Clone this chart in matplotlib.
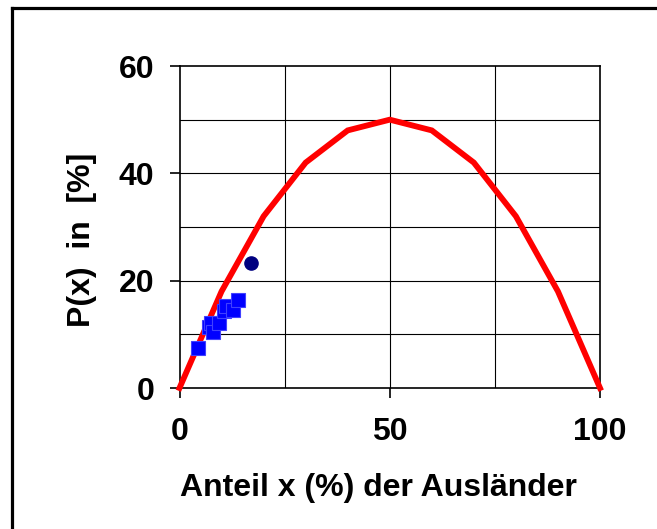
import matplotlib.pyplot as plt
from matplotlib.lines import Line2D

# data
curve_x = [0, 10, 20, 30, 40, 50, 60, 70, 80, 90, 100]
curve_p = [0, 18, 32, 42, 48, 50, 48, 42, 32, 18, 0]

square_x = [4.4, 7.1, 7.5, 7.9, 9.4, 10.5, 11.1, 12.7, 14.0]
square_p = [7.4, 11.3, 12.2, 10.4, 12.2, 14.4, 15.3, 14.6, 16.4]

circle_x = [16.9]
circle_p = [23.2]

x_ticks = [0, 50, 100]
y_ticks = [0, 20, 40, 60]
x_grid = [25, 50, 75]
y_grid = [10, 20, 30, 40, 50]


def main():
    plt.rcParams["font.family"] = ["Liberation Sans", "DejaVu Sans"]
    plt.rcParams["font.weight"] = "bold"

    fig = plt.figure(figsize=(6.57, 5.29), dpi=100)
    ax = fig.add_axes([179.5 / 657, 141 / 529, 420.5 / 657, 322 / 529])

    # grid lines
    for gx in x_grid:
        ax.axvline(gx, color="black", lw=0.8, zorder=1)
    for gy in y_grid:
        ax.axhline(gy, color="black", lw=0.8, zorder=1)

    ax.plot(curve_x, curve_p, color="#ff0000", lw=4.2, zorder=3,
            solid_joinstyle="miter", clip_on=False)
    ax.plot(square_x, square_p, ls="none", marker="s", markersize=9.5,
            markerfacecolor="#0000ff", markeredgecolor="#4040ff",
            markeredgewidth=0.8, zorder=4)
    ax.plot(circle_x, circle_p, ls="none", marker="o", markersize=9.5,
            markerfacecolor="#000080", markeredgecolor="#000080", zorder=4)

    ax.set_xlim(0, 100)
    ax.set_ylim(0, 60)
    ax.set_xticks(x_ticks)
    ax.set_yticks(y_ticks)
    ax.tick_params(axis="both", direction="out", length=7, width=1.2,
                   labelsize=23)
    ax.tick_params(axis="x", pad=14)
    ax.tick_params(axis="y", pad=11)
    for lab in ax.get_xticklabels() + ax.get_yticklabels():
        lab.set_fontweight("bold")
    for sp in ax.spines.values():
        sp.set_linewidth(1.2)

    fig.text(378 / 657, 33 / 529, "Anteil x (%) der Ausländer",
             fontsize=23, fontweight="bold", ha="center", va="baseline")
    fig.text(82 / 657, 1 - 240 / 529, "P(x)  in  [%]", rotation=90,
             fontsize=23, fontweight="bold", ha="center", va="center")

    # outer frame (only top and left edges visible)
    fig.add_artist(Line2D([12 / 657, 12 / 657], [0, 1 - 7.5 / 529],
                          transform=fig.transFigure, color="black", lw=2.3,
                          solid_capstyle="projecting"))
    fig.add_artist(Line2D([12 / 657, 1], [1 - 7.5 / 529, 1 - 7.5 / 529],
                          transform=fig.transFigure, color="black", lw=2.3,
                          solid_capstyle="projecting"))

    fig.savefig("out.png", dpi=100)


if __name__ == "__main__":
    main()
